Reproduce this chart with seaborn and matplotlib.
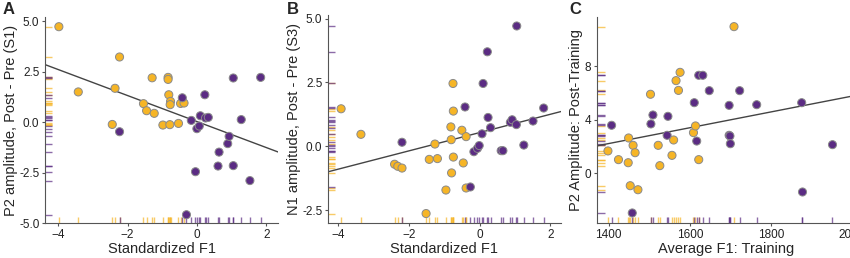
import numpy as np
import pandas as pd
import seaborn as sns
import matplotlib.pyplot as plt

# ---- data ----
# Panel A: standardized F1 vs P2 amplitude change (S1)
a_x_orange = [-3.98, -3.42, -2.23, -2.36, -2.44, -1.29, -1.54, -1.45, -1.23, -0.98,
              -0.83, -0.83, -0.81, -0.76, -0.77, -0.78, -0.53, -0.47, -0.37]
a_y_orange = [4.72, 1.49, 3.22, 1.67, -0.12, 2.19, 0.91, 0.56, 0.43, -0.15,
              2.21, 2.11, 1.35, 1.02, 0.86, -0.13, -0.07, 0.92, 0.94]
a_x_purple = [-2.23, -0.42, -0.16, -0.04, 0.00, 0.07, 0.10, 0.23, 0.25, 0.33,
              -0.30, 0.61, 0.64, 0.89, 0.93, 1.05, 1.05, 1.28, 1.53, 1.84]
a_y_purple = [-0.48, 1.20, 0.08, -2.46, -0.33, -0.20, 0.31, 1.35, 0.20, 0.23,
              -4.59, -2.18, -1.49, -1.07, -0.71, 2.18, -2.16, 0.12, -2.90, 2.21]

# Panel B: standardized F1 vs N1 amplitude change (S3)
b_x_orange = [-3.91, -3.35, -2.40, -2.31, -2.19, -1.51, -1.42, -1.26, -1.19, -0.95,
              -0.81, -0.80, -0.79, -0.75, -0.74, -0.74, -0.50, -0.46, -0.38, -0.38]
b_y_orange = [1.47, 0.47, -0.70, -0.78, -0.85, -2.63, -0.51, 0.09, -0.48, -1.71,
              0.76, 0.26, -1.04, 2.46, 1.38, -0.42, 0.63, -0.65, 0.38, -1.63]
b_x_purple = [-2.19, -0.41, -0.26, -0.16, -0.06, -0.01, 0.07, 0.10, 0.22, 0.24,
              0.31, 0.61, 0.66, 0.87, 0.92, 1.05, 1.04, 1.25, 1.51, 1.81]
b_y_purple = [0.16, 1.54, -1.59, -0.21, -0.08, 0.03, 0.49, 2.46, 3.70, 1.13,
              0.73, -0.17, -0.17, 0.94, 1.04, 4.71, 0.85, 0.05, 0.99, 1.50]

# Panel C: average F1 (training) vs P2 amplitude post-training
c_x_orange = [1398, 1424, 1448, 1449, 1453, 1460, 1465, 1472, 1503, 1522,
              1526, 1556, 1560, 1566, 1572, 1576, 1609, 1614, 1622, 1709]
c_y_orange = [1.65, 1.00, 0.77, 2.62, -0.95, 2.07, 1.52, -1.25, 5.89, 2.07,
              0.55, 1.32, 2.47, 6.91, 6.18, 7.53, 3.02, 3.52, 1.00, 10.95]
c_x_purple = [1407, 1458, 1504, 1509, 1544, 1546, 1611, 1617, 1622, 1632,
              1648, 1697, 1697, 1699, 1700, 1723, 1765, 1876, 1878, 1952]
c_y_purple = [3.57, -2.99, 3.67, 4.34, 2.82, 4.24, 5.26, 2.39, 7.31, 7.31,
              6.16, 5.06, 2.82, 2.77, 2.19, 6.16, 5.11, 5.26, -1.42, 2.12]

groups = ["Group 1", "Group 2"]
palette = {"Group 1": "#F6B526", "Group 2": "#5B2C83"}

sns.set_style("ticks")
plt.rcParams['font.family'] = ['Liberation Sans', 'DejaVu Sans']
plt.rcParams['axes.edgecolor'] = '#555555'
plt.rcParams['xtick.color'] = '#555555'
plt.rcParams['ytick.color'] = '#555555'
plt.rcParams['xtick.labelcolor'] = '#222222'
plt.rcParams['ytick.labelcolor'] = '#222222'


def make_df(xo, yo, xp, yp):
    return pd.DataFrame({
        "x": xo + xp,
        "y": yo + yp,
        "group": [groups[0]] * len(xo) + [groups[1]] * len(xp),
    })


def panel(ax, df, xlim, ylim, xticks, yticks, yticklabels, xlabel, ylabel):
    ax.set_xlim(xlim)
    ax.set_ylim(ylim)
    sns.rugplot(data=df, x="x", hue="group", palette=palette, height=0.03,
                alpha=0.7, lw=1.4, legend=False, ax=ax)
    sns.rugplot(data=df, y="y", hue="group", palette=palette, height=0.03,
                alpha=0.7, lw=1.4, legend=False, ax=ax)
    sns.regplot(data=df, x="x", y="y", scatter=False, ci=None, truncate=False,
                color="#444444", line_kws={"lw": 1.0}, ax=ax)
    sns.scatterplot(data=df, x="x", y="y", hue="group", palette=palette, s=34,
                    edgecolor="#8a8a8a", linewidth=0.7, legend=False, ax=ax,
                    zorder=3)
    ax.set_xlim(xlim)
    ax.set_ylim(ylim)
    ax.set_xticks(xticks)
    ax.set_yticks(yticks)
    ax.set_yticklabels(yticklabels)
    ax.tick_params(labelsize=8.5, length=2.5, width=0.8, pad=1.5)
    ax.set_xlabel(xlabel, fontsize=10.5, labelpad=1)
    ax.set_ylabel(ylabel, fontsize=10.5, labelpad=1)
    sns.despine(ax=ax)


fig = plt.figure(figsize=(8.5, 2.58), dpi=100)
W, H = 850, 258
ax1 = fig.add_axes([45 / W, 35 / H, 233 / W, 206 / H])
ax2 = fig.add_axes([328 / W, 35 / H, 233 / W, 208 / H])
ax3 = fig.add_axes([597 / W, 35 / H, 259 / W, 206 / H])

panel(ax1, make_df(a_x_orange, a_y_orange, a_x_purple, a_y_purple),
      (-4.38, 2.34), (-5.0, 5.2), [-4, -2, 0, 2], [-5, -2.5, 0, 2.5, 5],
      ["-5.0", "-2.5", "0.0", "2.5", "5.0"],
      "Standardized F1", "P2 amplitude, Post - Pre (S1)")
panel(ax2, make_df(b_x_orange, b_y_orange, b_x_purple, b_y_purple),
      (-4.28, 2.30), (-3.0, 5.14), [-4, -2, 0, 2], [-2.5, 0, 2.5, 5],
      ["-2.5", "0.0", "2.5", "5.0"],
      "Standardized F1", "N1 amplitude, Post - Pre (S3)")
panel(ax3, make_df(c_x_orange, c_y_orange, c_x_purple, c_y_purple),
      (1371, 2010), (-3.74, 11.67), [1400, 1600, 1800, 2000], [0, 4, 8],
      ["0", "4", "8"],
      "Average F1: Training", "P2 Amplitude: Post-Training")

# panel letters
for letter, xpix in [("A", 3), ("B", 287), ("C", 569)]:
    fig.text(xpix / W, 1 - 2 / H, letter, fontsize=12, fontweight="bold",
             va="top", ha="left")

fig.savefig("out.png", dpi=100)
